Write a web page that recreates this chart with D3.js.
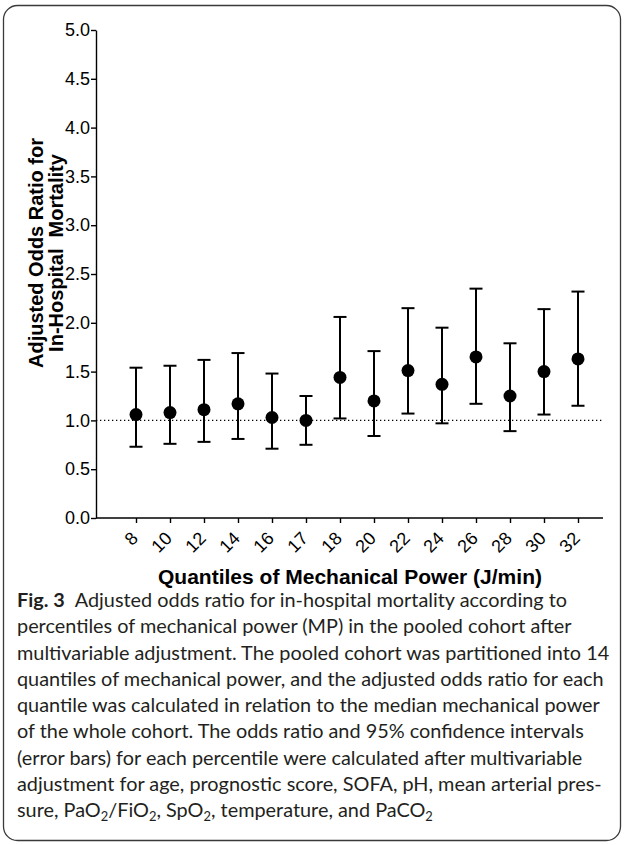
<!DOCTYPE html>
<meta charset="utf-8">
<title>Adjusted odds ratio by MP quantile</title>
<style>
  body { margin: 0; background: #fff; }
  svg { display: block; }
  .tick text { font: 18px "Liberation Sans", Arial, sans-serif; fill: #000; }
  .axis path, .axis line { stroke: #000; stroke-width: 1.4px; }
  .title { font-family: "Liberation Sans", Arial, sans-serif; font-weight: bold; fill: #000; }
  .caption { font-family: Lato, "Noto Sans", sans-serif; fill: #231f20; }
</style>
<body>
<svg width="624" height="845"></svg>
<script src="https://d3js.org/d3.v7.min.js"></script>
<script>

// data
var quantiles = ["8", "10", "12", "14", "16", "17", "18", "20", "22", "24", "26", "28", "30", "32"];
var oddsRatio = [1.06, 1.08, 1.11, 1.17, 1.03, 1.00, 1.44, 1.20, 1.51, 1.37, 1.65, 1.25, 1.50, 1.63];
var ciLower   = [0.73, 0.76, 0.78, 0.81, 0.71, 0.75, 1.02, 0.84, 1.07, 0.97, 1.17, 0.89, 1.06, 1.15];
var ciUpper   = [1.54, 1.56, 1.62, 1.69, 1.48, 1.25, 2.06, 1.71, 2.15, 1.95, 2.35, 1.79, 2.14, 2.32];
var yTicks = [0, 0.5, 1, 1.5, 2, 2.5, 3, 3.5, 4, 4.5, 5];

var captionLines = [
  [{t: "Fig. 3", b: true}, {t: "\u2002Adjusted odds ratio for in-hospital mortality according to"}],
  [{t: "percentiles of mechanical power (MP) in the pooled cohort after"}],
  [{t: "multivariable adjustment. The pooled cohort was partitioned into 14"}],
  [{t: "quantiles of mechanical power, and the adjusted odds ratio for each"}],
  [{t: "quantile was calculated in relation to the median mechanical power"}],
  [{t: "of the whole cohort. The odds ratio and 95% confidence intervals"}],
  [{t: "(error bars) for each percentile were calculated after multivariable"}],
  [{t: "adjustment for age, prognostic score, SOFA, pH, mean arterial pres-"}],
  [{t: "sure, PaO"}, {t: "2", s: true}, {t: "/FiO"}, {t: "2", s: true}, {t: ", SpO"}, {t: "2", s: true},
   {t: ", temperature, and PaCO"}, {t: "2", s: true}]
];

var svg = d3.select("svg"),
    width = +svg.attr("width"),
    height = +svg.attr("height");

var plot = {left: 96, right: 603, top: 30, bottom: 518};

// frame around the figure
svg.append("rect")
    .attr("x", 3.5).attr("y", 5.5)
    .attr("width", width - 7).attr("height", height - 10)
    .attr("rx", 14).attr("ry", 14)
    .style("fill", "none")
    .style("stroke", "#3a3a3a")
    .style("stroke-width", 1.3);

var x = d3.scalePoint()
    .domain(quantiles)
    .range([plot.left + 40, plot.right - 25]);

var y = d3.scaleLinear()
    .domain([0, 5])
    .range([plot.bottom, plot.top]);

// y axis
svg.append("g")
    .attr("class", "axis")
    .attr("transform", "translate(" + plot.left + ",0)")
    .call(d3.axisLeft(y).tickValues(yTicks).tickFormat(d3.format(".1f")).tickSize(5).tickSizeOuter(0).tickPadding(1));

// x axis
var xg = svg.append("g")
    .attr("class", "axis")
    .attr("transform", "translate(0," + plot.bottom + ")")
    .call(d3.axisBottom(x).tickSize(5).tickSizeOuter(0));
xg.select(".domain").attr("d", "M" + plot.left + ",0H" + plot.right);
xg.selectAll(".tick text")
    .attr("text-anchor", "end")
    .attr("dy", "0.35em")
    .attr("transform", "translate(-2,17) rotate(-45)")
    .attr("x", 0).attr("y", 0);

// reference line at OR = 1
svg.append("line")
    .attr("x1", plot.left).attr("x2", plot.right)
    .attr("y1", y(1)).attr("y2", y(1))
    .style("stroke", "#000")
    .style("stroke-width", 1.2)
    .style("stroke-dasharray", "1.3,2.7");

// error bars + points
var rows = quantiles.map(function(q, i) {
  return {q: q, or: oddsRatio[i], lo: ciLower[i], hi: ciUpper[i]};
});

var g = svg.append("g").selectAll("g")
  .data(rows)
  .enter().append("g");

g.append("line")
    .attr("x1", function(d) { return x(d.q); })
    .attr("x2", function(d) { return x(d.q); })
    .attr("y1", function(d) { return y(d.lo); })
    .attr("y2", function(d) { return y(d.hi); })
    .style("stroke", "#000").style("stroke-width", 2);

["lo", "hi"].forEach(function(k) {
  g.append("line")
      .attr("x1", function(d) { return x(d.q) - 6.5; })
      .attr("x2", function(d) { return x(d.q) + 6.5; })
      .attr("y1", function(d) { return y(d[k]); })
      .attr("y2", function(d) { return y(d[k]); })
      .style("stroke", "#000").style("stroke-width", 2);
});

g.append("circle")
    .attr("cx", function(d) { return x(d.q); })
    .attr("cy", function(d) { return y(d.or); })
    .attr("r", 6.5)
    .style("fill", "#000");

// axis titles
var yt = svg.append("text")
    .attr("class", "title")
    .style("font-size", "20px")
    .attr("text-anchor", "middle")
    .attr("transform", "translate(43,253) rotate(-90)");
yt.append("tspan").attr("x", 0).attr("y", 0).text("Adjusted Odds Ratio for");
yt.append("tspan").attr("x", 0).attr("y", 20).style("white-space", "pre").text("In-Hospital  Mortality");

svg.append("text")
    .attr("class", "title")
    .style("font-size", "21px")
    .attr("text-anchor", "middle")
    .attr("x", 350).attr("y", 584)
    .text("Quantiles of Mechanical Power (J/min)");

// caption
var cap = svg.append("g").attr("class", "caption");
var lineText = captionLines.map(function(parts, i) {
  var t = cap.append("text")
      .attr("x", 17)
      .attr("y", 607 + i * 26.25)
      .style("font-size", "17px");
  parts.forEach(function(p) {
    var s = t.append("tspan").text(p.t);
    if (p.b) s.style("font-weight", "bold");
    if (p.s) s.attr("baseline-shift", "-28%").style("font-size", "11px");
  });
  return t;
});

// fit caption size so the long line spans like the original
var w = lineText[3].node().getComputedTextLength();
var fs = 17 * 587 / w;
lineText.forEach(function(t) {
  t.style("font-size", fs + "px");
  t.selectAll("tspan").filter(function() { return this.getAttribute("baseline-shift"); })
    .style("font-size", (fs * 0.65) + "px");
});

</script>
</body>
